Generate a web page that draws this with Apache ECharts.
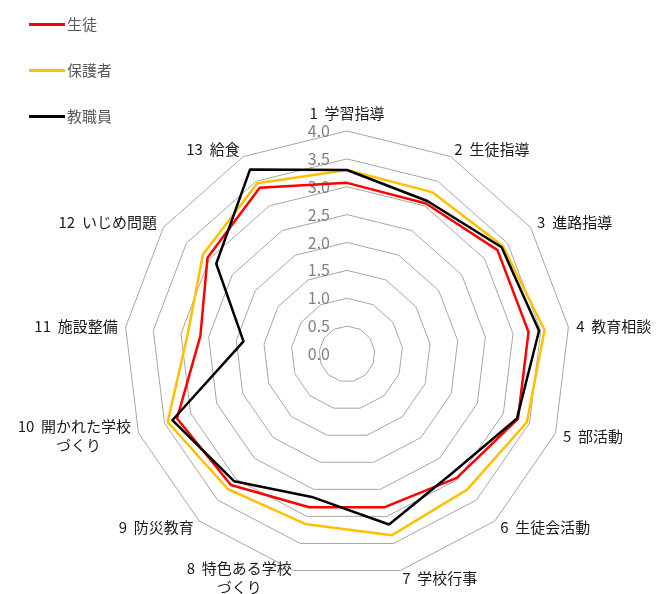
<!DOCTYPE html>
<html>
<head>
<meta charset="utf-8">
<script src="https://cdn.jsdelivr.net/npm/echarts@6/dist/echarts.min.js"></script>
<style>
html,body{margin:0;padding:0;background:#fff;}
#chart{width:661px;height:594px;}
</style>
</head>
<body>
<div id="chart"></div>
<script>
// Categories in clockwise order starting at top
const categories = [
  '1  学習指導', '2  生徒指導', '3  進路指導', '4  教育相談', '5  部活動',
  '6  生徒会活動', '7  学校行事', '8  特色ある学校\nづくり　　', '9  防災教育',
  '10  開かれた学校\nづくり　　', '11  施設整備', '12  いじめ問題', '13  給食'
];
const seriesNames = ['生徒', '保護者', '教職員'];
const students = [3.07, 3.05, 3.28, 3.28, 3.28, 2.97, 2.83, 2.83, 3.14, 3.26, 2.65, 3.04, 3.37];
const parents  = [3.30, 3.28, 3.40, 3.57, 3.45, 3.25, 3.35, 3.14, 3.23, 3.44, 2.88, 3.14, 3.46];
const teachers = [3.30, 3.10, 3.37, 3.47, 3.26, 2.85, 3.15, 2.64, 3.05, 3.35, 1.87, 2.85, 3.74];
const axisMin = 0, axisMax = 4, axisSplit = 8;

// ECharts radar runs counter-clockwise; reorder so the picture reads clockwise
function ccw(arr) { return [arr[0]].concat(arr.slice(1).reverse()); }

const indicators = ccw(categories).map(function (name, i) {
  const ind = { name: name, min: axisMin, max: axisMax };
  if (i === 0) ind.axisLabel = { show: true };
  return ind;
});

const colors = ['#ff0000', '#ffc000', '#000000'];
const values = [students, parents, teachers];

const chart = echarts.init(document.getElementById('chart'), null, { renderer: 'canvas' });
chart.setOption({
  animation: false,
  legend: {
    orient: 'vertical',
    left: 24,
    top: 12,
    itemGap: 31,
    itemWidth: 36,
    itemHeight: 3,
    icon: 'rect',
    textStyle: { fontFamily: 'Noto Sans CJK JP', fontSize: 15, color: '#595959', padding: [0, 0, 0, -3] },
    data: seriesNames
  },
  radar: {
    center: [347, 354],
    radius: 223,
    startAngle: 90,
    splitNumber: axisSplit,
    shape: 'polygon',
    indicator: indicators,
    nameGap: 8,
    axisName: {
      color: '#1a1a1a',
      fontFamily: 'Noto Sans CJK JP',
      fontSize: 15,
      lineHeight: 19
    },
    axisLine: { show: false },
    axisTick: { show: false },
    axisLabel: {
      show: false,
      color: '#808080',
      fontFamily: 'Noto Sans CJK JP',
      fontSize: 16,
      margin: 17,
      formatter: function (v) { return Number(v).toFixed(1); }
    },
    splitArea: { show: false },
    splitLine: { lineStyle: { color: '#a6a6a6', width: 1 } }
  },
  series: [{
    type: 'radar',
    symbol: 'none',
    data: values.map(function (v, i) {
      return {
        name: seriesNames[i],
        value: ccw(v),
        lineStyle: { color: colors[i], width: 2.5 },
        itemStyle: { color: colors[i] }
      };
    })
  }]
});
</script>
</body>
</html>
